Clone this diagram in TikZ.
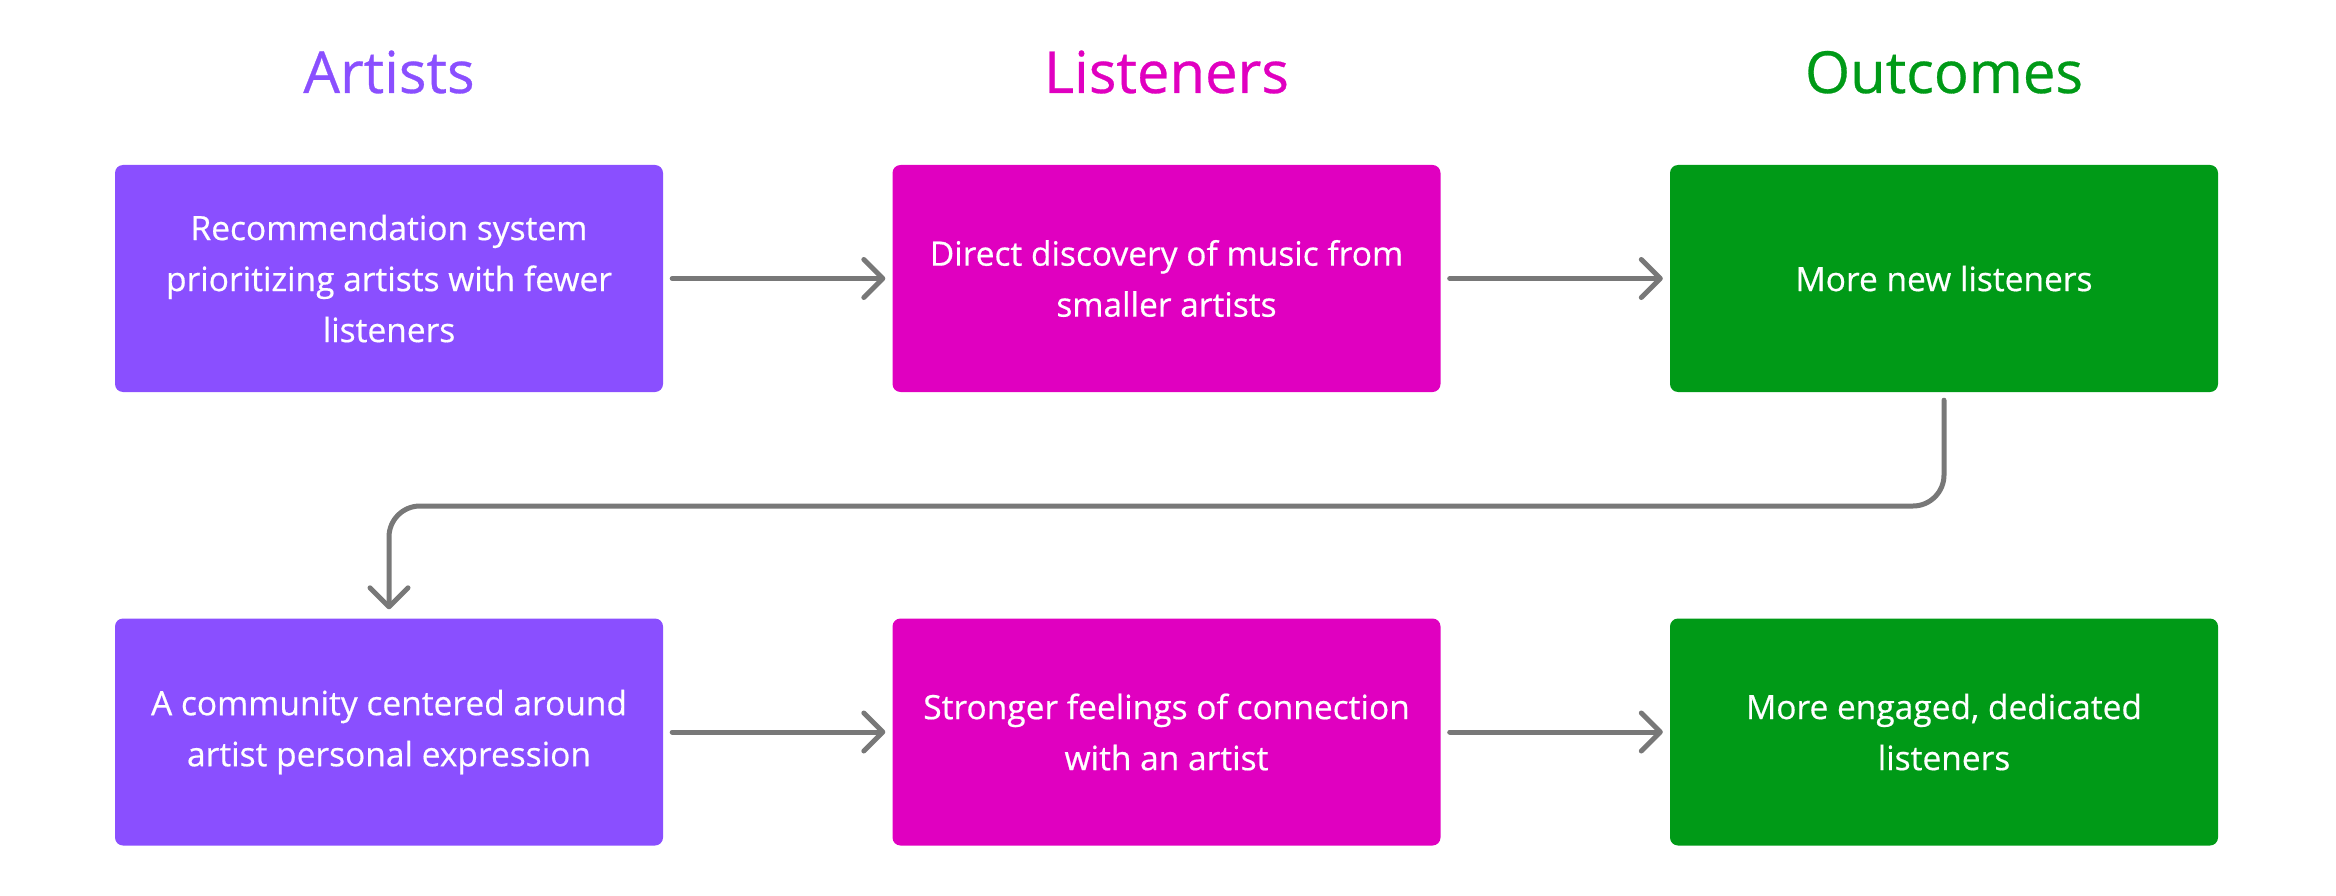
\documentclass[tikz,border=0pt]{standalone}
\usepackage{fontspec}
\setmainfont{Open Sans}[FakeBold=0.5]
\usetikzlibrary{arrows.meta}
\definecolor{cpurple}{RGB}{138,79,255}
\definecolor{cmagenta}{RGB}{224,0,192}
\definecolor{cgreen}{RGB}{0,154,23}
\definecolor{cgray}{RGB}{120,120,120}
\begin{document}
\begin{tikzpicture}[x=1pt,y=-1pt,
  box/.style={rounded corners=8pt, minimum width=548pt, minimum height=227pt, text=white, align=center, font=\fontsize{33.5}{51}\selectfont, inner sep=0pt},
  hdr/.style={anchor=base, font=\fontsize{58}{62}\selectfont, inner sep=0pt},
  conn/.style={draw=cgray, line width=5pt, line cap=round, line join=round, -{Straight Barb[length=19pt,width=38pt,round]}}]
\useasboundingbox (0,0) rectangle (2336,896);
\node[hdr, text=cpurple] (h1) at (389,93) {Artists};
\node[hdr, text=cmagenta] (h2) at (1166.5,93) {Listeners};
\node[hdr, text=cgreen] (h3) at (1944,93) {Outcomes};
\node[box, fill=cpurple] (b1) at (389,278.5) {Recommendation system\\prioritizing artists with fewer\\listeners};
\node[box, fill=cmagenta] (b2) at (1166.5,278.5) {Direct discovery of music from\\smaller artists};
\node[box, fill=cgreen] (b3) at (1944,278.5) {More new listeners};
\node[box, fill=cpurple] (b4) at (389,732) {A community centered around\\artist personal expression};
\node[box, fill=cmagenta] (b5) at (1166.5,732) {Stronger feelings of connection\\with an artist};
\node[box, fill=cgreen] (b6) at (1944,732) {More engaged, dedicated\\listeners};
\coordinate (m) at (0,506);
\draw[conn, shorten <=9pt, shorten >=7pt] (b1.east) -- (b2.west);
\draw[conn, shorten <=9pt, shorten >=7pt] (b2.east) -- (b3.west);
\draw[conn, shorten <=9pt, shorten >=7pt] (b4.east) -- (b5.west);
\draw[conn, shorten <=9pt, shorten >=7pt] (b5.east) -- (b6.west);
\draw[conn, rounded corners=31pt, shorten <=8pt, shorten >=9pt] (b3.south) -- (b3.south |- m) -- (b4.north |- m) -- (b4.north);
\end{tikzpicture}
\end{document}
